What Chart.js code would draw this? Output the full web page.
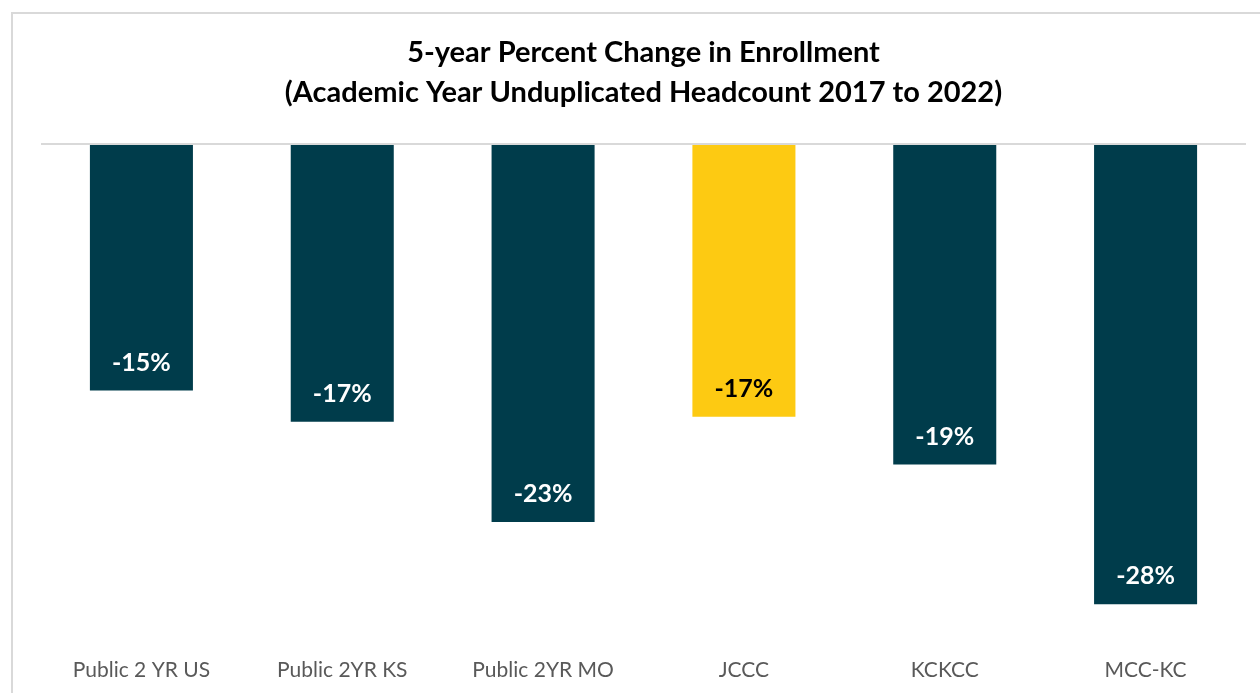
<!DOCTYPE html>
<html>
<head>
<meta charset="utf-8">
<script src="https://cdn.jsdelivr.net/npm/chart.js"></script>
<style>
  html, body { margin: 0; padding: 0; background: #fff; overflow: hidden; }
  .frame { position: absolute; left: 11px; top: 12px; width: 1300px; height: 800px; border: 2px solid #d9d9d9; }
  .wrap { position: absolute; left: 0; top: 0; width: 1260px; height: 693px; }
</style>
</head>
<body>
<div class="frame"></div>
<div class="wrap"><canvas id="enrollChart"></canvas></div>
<script>
  const categories = ["Public 2 YR US", "Public 2YR KS", "Public 2YR MO", "JCCC", "KCKCC", "MCC-KC"];
  const pctChange = [-15.0, -16.9, -23.0, -16.6, -19.5, -28.0];
  const highlight = "JCCC";

  const DARK = '#003c4b';
  const GOLD = '#fdca12';

  /* ---------- baseline at zero ---------- */
  const zeroLine = {
    id: 'zeroLine',
    afterDatasetsDraw(chart) {
      const { ctx, chartArea, scales } = chart;
      const y = scales.y.getPixelForValue(0);
      ctx.save();
      ctx.strokeStyle = '#d9d9d9';
      ctx.lineWidth = 2;
      ctx.beginPath();
      ctx.moveTo(chartArea.left, y);
      ctx.lineTo(chartArea.right, y);
      ctx.stroke();
      ctx.restore();
    }
  };

  /* ---------- value labels inside bars ---------- */
  const barLabels = {
    id: 'barLabels',
    afterDatasetsDraw(chart) {
      const { ctx } = chart;
      const meta = chart.getDatasetMeta(0);
      ctx.save();
      ctx.font = 'bold 25px Lato';
      ctx.textAlign = 'center';
      ctx.textBaseline = 'middle';
      meta.data.forEach((bar, i) => {
        ctx.fillStyle = categories[i] === highlight ? '#000' : '#fff';
        ctx.fillText(Math.round(pctChange[i]) + '%', bar.x, bar.y - 28);
      });
      ctx.restore();
    }
  };

  new Chart(document.getElementById('enrollChart'), {
    type: 'bar',
    data: {
      labels: categories,
      datasets: [{
        data: pctChange,
        backgroundColor: categories.map(c => c === highlight ? GOLD : DARK),
        barPercentage: 0.513,
        categoryPercentage: 1
      }]
    },
    options: {
      responsive: true,
      maintainAspectRatio: false,
      animation: false,
      layout: { padding: { left: 41, right: 14, top: 0, bottom: 12 } },
      plugins: {
        legend: { display: false },
        tooltip: { enabled: false },
        title: {
          display: true,
          text: ['5-year Percent Change in Enrollment', '(Academic Year Unduplicated Headcount 2017 to 2022)'],
          color: '#000',
          font: { family: 'Lato', size: 29, weight: 'bold', lineHeight: 1.38 },
          padding: { top: 33, bottom: 31 }
        }
      },
      scales: {
        x: {
          grid: { display: false, drawTicks: false },
          border: { display: false },
          ticks: { color: '#595959', padding: 21, maxRotation: 0, font: { family: 'Lato', size: 21 } },
          afterFit: (s) => { s.height = 44; }
        },
        y: {
          display: false,
          min: -30,
          max: 0
        }
      }
    },
    plugins: [zeroLine, barLabels]
  });
</script>
</body>
</html>
